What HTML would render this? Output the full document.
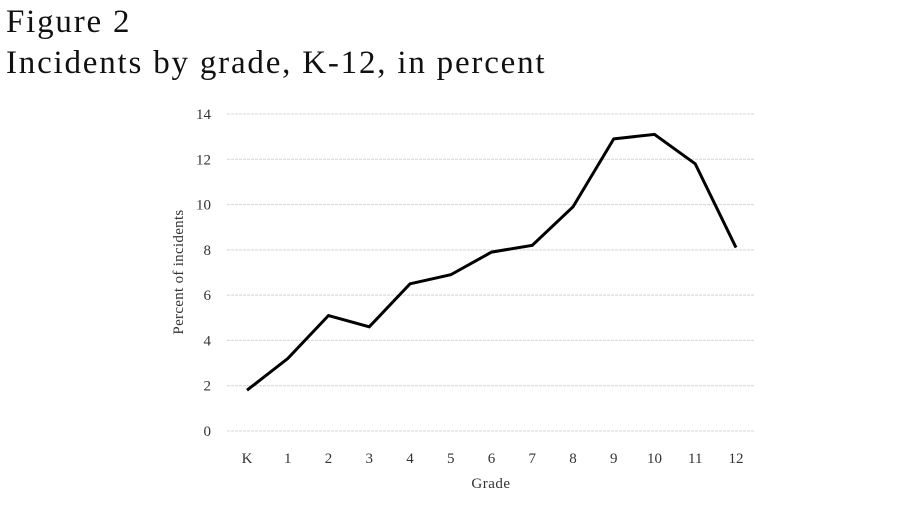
<!DOCTYPE html>
<html><head><meta charset="utf-8"><style>
body{margin:0;background:#fff;width:913px;height:512px;overflow:hidden;font-family:"Liberation Serif",serif}
.t{position:absolute;left:6px;font-size:33px;letter-spacing:1.8px;color:#111;line-height:1}
</style></head><body>
<div class="t" style="top:6px">Figure 2</div>
<div class="t" style="top:47px">Incidents by grade, K-12, in percent</div>
<svg id="c" width="913" height="512" style="position:absolute;left:0;top:0"></svg>
<script>
const categories=["K","1","2","3","4","5","6","7","8","9","10","11","12"];
const values=[1.8,3.2,5.1,4.6,6.5,6.9,7.9,8.2,9.9,12.9,13.1,11.8,8.1];
const yTicks=[0,2,4,6,8,10,12,14];
const ns="http://www.w3.org/2000/svg",svg=document.getElementById('c');
const x0=247,x1=736,y0=431,y1=114,xl=227,xr=755;
const X=i=>x0+(x1-x0)*i/(categories.length-1);
const Y=v=>y0+(y1-y0)*v/14;
function mk(t,a,txt){const e=document.createElementNS(ns,t);for(const k in a)e.setAttribute(k,a[k]);if(txt!=null)e.textContent=txt;svg.appendChild(e);return e;}
yTicks.forEach(v=>{
 const g=mk('line',{x1:xl,x2:xr,y1:Y(v),y2:Y(v),stroke:'#d4d4d4','stroke-width':1,'stroke-dasharray':'3,1'});
 
 
 const t=mk('text',{x:211,y:Y(v)+5,'text-anchor':'end','font-size':15,fill:'#333'},v);
 
 
});
categories.forEach((c,i)=>{
 const t=mk('text',{x:X(i),y:463,'text-anchor':'middle','font-size':15,fill:'#333'},c);
 
 
});
const p=mk('polyline',{points:values.map((v,i)=>X(i)+','+Y(v)).join(' '),fill:'none',stroke:'#000','stroke-width':3,'stroke-linejoin':'miter'});


const xt=mk('text',{x:491,y:488,'text-anchor':'middle','font-size':15,fill:'#333','letter-spacing':0.5},'Grade');


const yt=mk('text',{x:0,y:0,'text-anchor':'middle','font-size':15,fill:'#333','letter-spacing':0.3,transform:'translate(183,272) rotate(-90)'},'Percent of incidents');


</script>
</body></html>
